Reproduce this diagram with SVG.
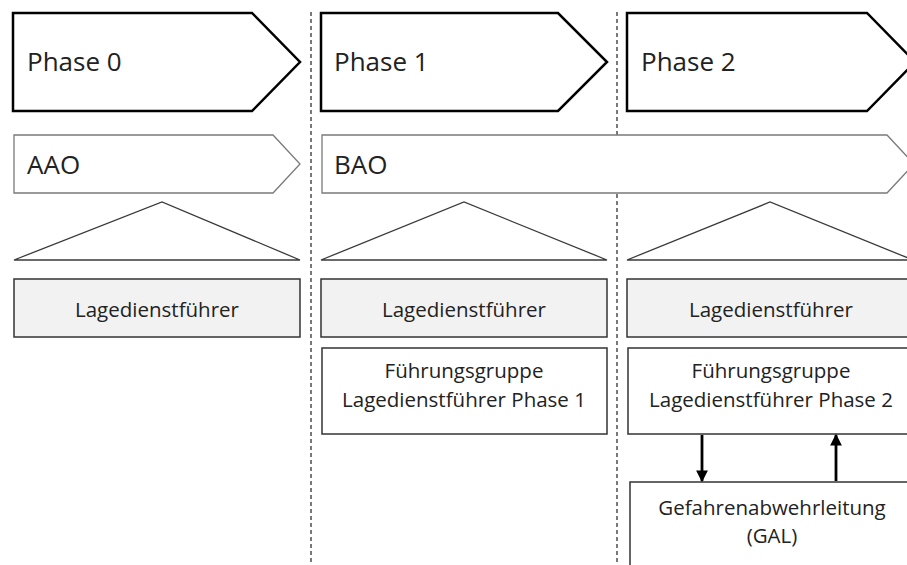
<svg xmlns="http://www.w3.org/2000/svg" width="907" height="565" viewBox="0 0 907 565">
  <defs>
    <marker id="ah" viewBox="0 0 10 10" refX="9" refY="5" markerWidth="4.2" markerHeight="4.2" orient="auto" markerUnits="strokeWidth">
      <path d="M0,0 L10,5 L0,10 Z" fill="#000"/>
    </marker>
  </defs>
  <style>
    .phase { fill: #fff; stroke: #000; stroke-width: 2.5; stroke-linejoin: miter; }
    .org { fill: #fff; stroke: #7a7a7a; stroke-width: 1.3; }
    .tri { fill: #fff; stroke: #3a3a3a; stroke-width: 1.3; }
    .ld { fill: #f2f2f2; stroke: #333; stroke-width: 1.5; }
    .box { fill: #fff; stroke: #333; stroke-width: 1.5; }
    .sep { stroke: #222; stroke-width: 1.2; stroke-dasharray: 4 3; fill: none; }
    .big { font-family: "Open Sans", "Noto Sans", sans-serif; font-size: 26px; fill: #222; }
    .t { font-family: "Open Sans", "Noto Sans", sans-serif; font-size: 20.5px; fill: #222; text-anchor: middle; }
    .conn { stroke: #000; stroke-width: 2.8; fill: none; marker-end: url(#ah); }
  </style>
  <rect width="907" height="565" fill="#fff"/>

  <!-- phase separators -->
  <g id="separators">
    <line class="sep" x1="311" y1="12" x2="311" y2="565"/>
    <line class="sep" x1="617" y1="12" x2="617" y2="565"/>
  </g>

  <!-- Phase 0 column -->
  <g id="phase0">
    <polygon class="phase" points="13,13 252,13 300,62 252,111 13,111"/>
    <text class="big" x="27" y="71">Phase 0</text>
  </g>
  <g id="aao">
    <polygon class="org" points="14,135 273,135 300,164 273,193 14,193"/>
    <text class="big" x="27" y="174">AAO</text>
  </g>
  <g id="tri0">
    <polygon class="tri" points="14,260 162,202 300,260"/>
  </g>
  <g id="ldf0">
    <rect class="ld" x="14" y="279" width="286" height="58"/>
    <text class="t" x="157" y="317">Lagedienstführer</text>
  </g>

  <!-- Phase 1 column -->
  <g id="phase1">
    <polygon class="phase" points="321,13 558,13 607,62 558,111 321,111"/>
    <text class="big" x="334" y="71">Phase 1</text>
  </g>
  <g id="bao">
    <polygon class="org" points="322,135 887,135 914,164 887,193 322,193"/>
    <text class="big" x="334" y="174">BAO</text>
  </g>
  <g id="tri1">
    <polygon class="tri" points="321,260 464,202 607,260"/>
  </g>
  <g id="ldf1">
    <rect class="ld" x="321" y="279" width="286" height="58"/>
    <text class="t" x="464" y="317">Lagedienstführer</text>
  </g>
  <g id="fg1">
    <rect class="box" x="322" y="348" width="285" height="86"/>
    <text class="t" x="464" y="378">Führungsgruppe</text>
    <text class="t" x="464" y="407">Lagedienstführer Phase 1</text>
  </g>

  <!-- Phase 2 column -->
  <g id="phase2">
    <polygon class="phase" points="627,13 867,13 915,62 867,111 627,111"/>
    <text class="big" x="641" y="71">Phase 2</text>
  </g>
  <g id="tri2">
    <polygon class="tri" points="627,260 770,202 913,260"/>
  </g>
  <g id="ldf2">
    <rect class="ld" x="627" y="279" width="290" height="58"/>
    <text class="t" x="771" y="317">Lagedienstführer</text>
  </g>
  <g id="fg2">
    <rect class="box" x="628" y="348" width="290" height="86"/>
    <text class="t" x="771" y="378">Führungsgruppe</text>
    <text class="t" x="771" y="407">Lagedienstführer Phase 2</text>
  </g>
  <g id="gal">
    <rect class="box" x="630" y="482" width="290" height="100"/>
    <text class="t" x="772" y="515">Gefahrenabwehrleitung</text>
    <text class="t" x="772" y="543">(GAL)</text>
  </g>

  <!-- connectors between Führungsgruppe and GAL -->
  <g id="connectors">
    <line class="conn" x1="702" y1="435" x2="702" y2="481"/>
    <line class="conn" x1="836" y1="481" x2="836" y2="435"/>
  </g>
</svg>
